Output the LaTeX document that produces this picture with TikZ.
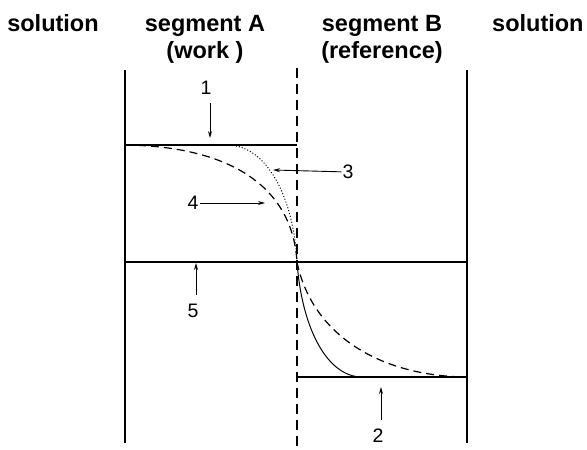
\documentclass[tikz,border=0pt]{standalone}
\usepackage{fontspec}
\setmainfont{Liberation Sans}
\usetikzlibrary{arrows.meta}
\tikzset{
  wall/.style={line width=2.7pt},
  membrane/.style={line width=2.7pt,dash pattern=on 10pt off 6pt},
  level/.style={line width=1.3pt},
  pointer/.style={line width=0.9pt,-{Stealth[length=7pt,width=4pt]}},
  head/.style={font=\fontsize{23.5}{27}\selectfont\bfseries,anchor=base,inner sep=0pt},
  num/.style={font=\fontsize{19.5}{22}\selectfont,inner sep=1pt}
}
\begin{document}
\begin{tikzpicture}[x=1pt,y=-1pt]
\useasboundingbox (0,0) rectangle (587,450);
% headings
\node[head] (solL) at (53,31) {solution};
\node[head] (segA) at (205,31) {segment A};
\node[head] (workA) at (205,58) {(work )};
\node[head] (segB) at (382,31) {segment B};
\node[head] (refB) at (382,58) {(reference)};
\node[head,anchor=base west] (solR) at (492,31) {solution};
% walls and membrane
\draw[wall] (125,70) -- (125,443);
\draw[wall] (467,70) -- (467,443);
\draw[membrane] (297,68) -- (297,450);
% levels
\draw[level] (125,145) -- (297,145);
\draw[level] (125,262) -- (467,262);
\draw[level] (297,377) -- (467,377);
% profiles
\draw[line width=1pt,dotted] (227,145) .. controls (268,145) and (294,200) .. (297,262);
\draw[line width=1.2pt,dash pattern=on 8pt off 5pt] (125,145) .. controls (220,146) and (292,180) .. (297,262);
\draw[line width=1pt] (297,262) .. controls (302,330) and (328,377) .. (362,377);
\draw[line width=1.2pt,dash pattern=on 8pt off 5pt] (297,262) .. controls (312,335) and (380,376) .. (466,377);
% labels
\node[num] (n1) at (206,88) {1};
\node[num] (n2) at (378,436) {2};
\node[num] (n3) at (348,172) {3};
\node[num] (n4) at (193,203) {4};
\node[num] (n5) at (193,311) {5};
\coordinate (p1) at (210,138);
\coordinate (p2) at (381,387);
\coordinate (p3) at (273,170);
\coordinate (p4) at (265,203);
\coordinate (p5) at (196,263);
\draw[pointer] (210,103) -- (p1);
\draw[pointer] (381,420) -- (p2);
\draw[pointer] (n3) -- (p3);
\draw[pointer] (n4) -- (p4);
\draw[pointer] (196,295) -- (p5);
\end{tikzpicture}
\end{document}
